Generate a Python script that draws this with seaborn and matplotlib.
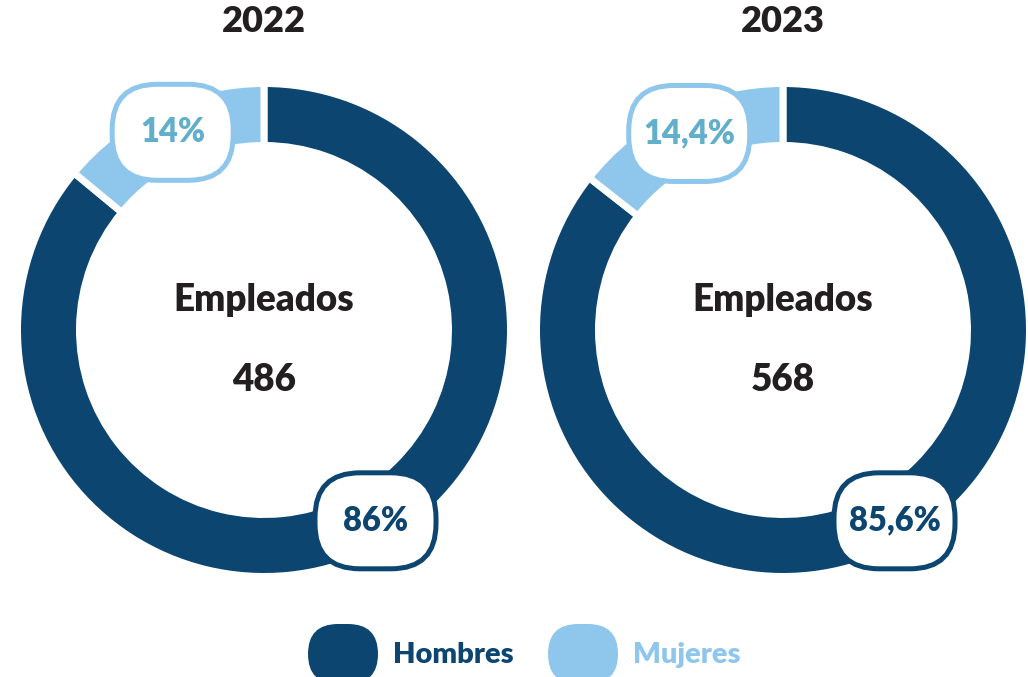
import numpy as np
import matplotlib
matplotlib.use("Agg")
import matplotlib.pyplot as plt
from matplotlib.patches import FancyBboxPatch
import seaborn as sns

# ---- data ----
years = ["2022", "2023"]
categories = ["Hombres", "Mujeres"]
hombres_pct = [86.0, 85.6]
mujeres_pct = [14.0, 14.4]
empleados = [486, 568]
hombres_labels = ["86%", "85,6%"]
mujeres_labels = ["14%", "14,4%"]
center_label = "Empleados"

# ---- style ----
sns.set_theme(style="white")
plt.rcParams["font.family"] = ["Lato", "DejaVu Sans"]
WEIGHT = "heavy"

NAVY = "#0B4570"
LIGHT = "#8EC6EC"
TEAL = "#62AFCB"
DARK = "#231F20"
palette = sns.color_palette([NAVY, LIGHT])

W, H = 1028, 677
fig = plt.figure(figsize=(W / 100, H / 100), dpi=100)
ax = fig.add_axes([0, 0, 1, 1])

centers_x = [264, 783]
cy = H - 330
R_OUT = 243
RING = 55
GAP_LW = 5  # points

for i, yr in enumerate(years):
    cx = centers_x[i]
    vals = [hombres_pct[i], mujeres_pct[i]]
    pad = GAP_LW * 100 / 72 / 2
    wedges, _ = ax.pie(vals, colors=palette, startangle=90, counterclock=False,
                       radius=R_OUT + pad, center=(cx, cy), frame=True,
                       wedgeprops=dict(width=RING + 2 * pad, edgecolor="white",
                                       linewidth=GAP_LW))
    # title
    ax.text(cx, H - 22, yr, ha="center", va="center", fontsize=26,
            fontweight=WEIGHT, color=DARK)
    ax.text(cx, H - 300, center_label, ha="center", va="center", fontsize=26.5,
            fontweight=WEIGHT, color=DARK)
    ax.text(cx, H - 380, str(empleados[i]), ha="center", va="center", fontsize=26.5,
            fontweight=WEIGHT, color=DARK)

    # label boxes
    r_mid = R_OUT - RING / 2
    # Mujeres at the middle of its wedge
    ang_m = np.deg2rad(90 + mujeres_pct[i] / 100 * 360 / 2)
    mx, my = cx + (r_mid - 1) * np.cos(ang_m), cy + (r_mid + 3) * np.sin(ang_m)
    # Hombres at lower right
    ang_h = np.deg2rad(-59.7)
    hx, hy = cx + 221 * np.cos(ang_h), cy + 221 * np.sin(ang_h)
    for (lx, ly), txt, ec, tc in [((mx, my), mujeres_labels[i], LIGHT, TEAL),
                                  ((hx, hy), hombres_labels[i], NAVY, NAVY)]:
        bw, bh = 121, 96
        box = FancyBboxPatch((lx - bw / 2, ly - bh / 2), bw, bh,
                             boxstyle="round,pad=0,rounding_size=45",
                             fc="white", ec=ec, lw=3.6, zorder=5)
        ax.add_patch(box)
        ax.text(lx, ly, txt, ha="center", va="center", fontsize=23.5,
                fontweight=WEIGHT, color=tc, zorder=6)

# legend
leg_items = [(308, categories[0], NAVY), (548, categories[1], LIGHT)]
for x0, lab, col in leg_items:
    pill = FancyBboxPatch((x0, H - 684), 70, 60,
                          boxstyle="round,pad=0,rounding_size=30",
                          fc=col, ec="none", zorder=5)
    ax.add_patch(pill)
    ax.text(x0 + 85, H - 655, lab, ha="left", va="center", fontsize=21,
            fontweight=WEIGHT, color=col)

ax.set_xlim(0, W)
ax.set_ylim(0, H)
ax.set_aspect("auto")
ax.axis("off")

fig.savefig("out.png", dpi=100, facecolor="white")
